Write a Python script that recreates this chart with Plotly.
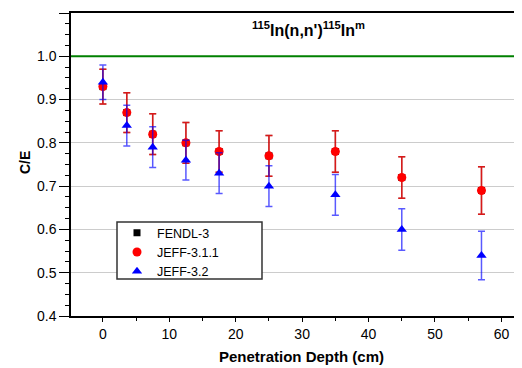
import plotly.graph_objects as go

depth = [0, 3.6, 7.5, 12.5, 17.5, 25, 35, 45, 57]
fendl = [0.93, 0.87, 0.82, 0.80, 0.78, 0.77, 0.78, 0.72, 0.69]
jeff311 = [0.93, 0.87, 0.82, 0.80, 0.78, 0.77, 0.78, 0.72, 0.69]
jeff311_err = [0.040, 0.046, 0.047, 0.047, 0.048, 0.047, 0.048, 0.048, 0.055]
jeff32 = [0.94, 0.84, 0.79, 0.76, 0.73, 0.70, 0.68, 0.60, 0.54]
jeff32_err = [0.040, 0.047, 0.047, 0.046, 0.047, 0.047, 0.047, 0.048, 0.056]

FONT = "Liberation Sans, Arial, sans-serif"

fig = go.Figure()
fig.add_trace(go.Scatter(
    x=depth, y=fendl, mode="markers", name="FENDL-3",
    marker=dict(symbol="square", size=7, color="black"),
    error_y=dict(type="data", array=jeff311_err, color="rgba(120,0,0,0.6)", thickness=1.5, width=3.5)))
fig.add_trace(go.Scatter(
    x=depth, y=jeff311, mode="markers", name="JEFF-3.1.1",
    marker=dict(symbol="circle", size=9, color="#ff0000"),
    error_y=dict(type="data", array=jeff311_err, color="rgba(230,0,0,0.75)", thickness=1.5, width=3.5)))
fig.add_trace(go.Scatter(
    x=depth, y=jeff32, mode="markers", name="JEFF-3.2",
    marker=dict(symbol="triangle-up", size=9, color="#0000ff"),
    error_y=dict(type="data", array=jeff32_err, color="rgba(0,0,255,0.65)", thickness=1.5, width=3.5)))

fig.add_shape(type="line", xref="paper", yref="y", x0=0, x1=1, y0=1.0, y1=1.0,
              line=dict(color="#008000", width=2))
# legend frame
fig.add_shape(type="rect", xref="paper", yref="paper", x0=0.102, x1=0.4235, y0=0.122, y1=0.310,
              line=dict(color="#333333", width=1.5), fillcolor="white", layer="above")

fig.add_annotation(text="<b><sup>115</sup>In(n,n')<sup>115</sup>In<sup>m</sup></b>",
                   xref="x", yref="y", x=31, y=1.064, showarrow=False,
                   xanchor="center", yanchor="middle",
                   font=dict(family=FONT, size=16, color="black"))
fig.add_annotation(text="<b>C/E</b>", xref="paper", yref="paper", x=-0.102, y=0.508,
                   xanchor="center", yanchor="middle",
                   textangle=-90, showarrow=False, font=dict(family=FONT, size=14, color="black"))
fig.add_annotation(text="<b>Penetration Depth (cm)</b>", xref="paper", yref="paper",
                   x=0.512, y=-0.135, xanchor="center", yanchor="middle", showarrow=False,
                   font=dict(family=FONT, size=15, color="black"))

fig.update_layout(
    width=522, height=368,
    margin=dict(l=63, r=8, t=5, b=60),
    plot_bgcolor="white", paper_bgcolor="white",
    font=dict(family=FONT, size=14, color="black"),
    showlegend=True,
    legend=dict(x=0.102, y=0.323, xanchor="left", yanchor="top",
                borderwidth=0, bgcolor="rgba(0,0,0,0)",
                font=dict(family=FONT, size=12.5), itemwidth=30,
                tracegroupgap=0),
    xaxis=dict(range=[-4.8, 63.1], dtick=10, tick0=0, showgrid=False, zeroline=False,
               automargin=False,
               showline=True, linecolor="black", linewidth=1.5, mirror=True,
               ticks="outside", ticklen=4, tickcolor="black",
               minor=dict(dtick=5, ticks="outside", ticklen=3, tickcolor="black")),
    yaxis=dict(range=[0.4, 1.1], dtick=0.1, tick0=0.4, tickformat=".1f",
               automargin=False,
               showgrid=True, gridcolor="#cccccc", gridwidth=1, zeroline=False,
               showline=True, linecolor="black", linewidth=1.5,
               ticks="outside", ticklen=10, tickcolor="black",
               minor=dict(dtick=0.025, ticks="outside", ticklen=4, tickcolor="black", showgrid=False)),
)

fig.write_html("out.html")
